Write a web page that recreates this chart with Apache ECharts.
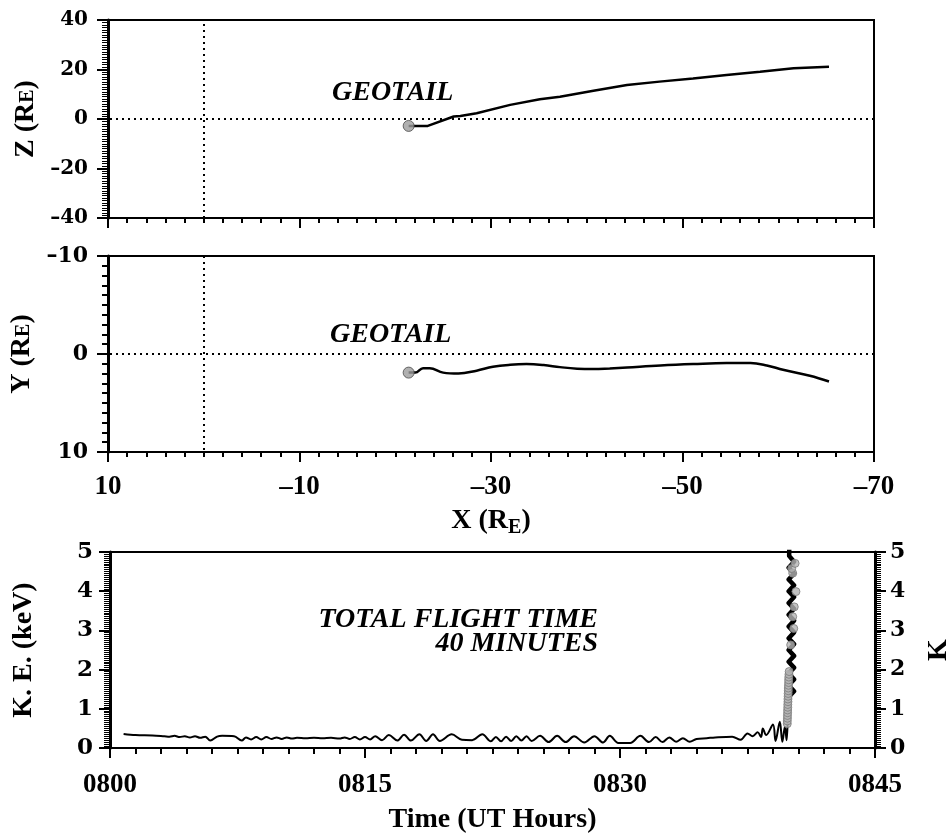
<!DOCTYPE html>
<html><head><meta charset="utf-8">
<script src="https://cdn.jsdelivr.net/npm/echarts@6/dist/echarts.min.js"></script>
<style>html,body{margin:0;padding:0;background:#fff}#c{width:947px;height:839px}</style>
</head><body><div id="c"></div>
<script>
// ---- Data ----
// Top panel: GEOTAIL orbit Z vs X (R_E)
const zX = [-21.4,-23.4,-26.1,-26.8,-28.5,-32.0,-35.1,-37.2,-40.7,-44.2,-47.6,-51.1,-54.6,-58.1,-61.6,-65.3];
const zZ = [-2.8,-2.8,1.0,1.2,2.3,5.7,8.0,9.0,11.4,13.7,15.1,16.4,17.8,19.1,20.5,21.1];
// Middle panel: Y vs X (R_E)
const yX = [-21.4,-22.1,-22.9,-23.6,-25.0,-26.6,-28.5,-30.2,-32.0,-33.7,-35.5,-37.2,-39.0,-40.7,-42.4,-44.2,-47.7,-51.1,-54.6,-57.1,-58.8,-60.5,-63.3,-65.3];
const yY = [1.9,1.9,1.45,1.45,1.9,2.0,1.7,1.3,1.1,1.03,1.13,1.34,1.5,1.54,1.47,1.37,1.17,1.03,0.93,0.93,1.17,1.61,2.22,2.8];
// Bottom panel: kinetic energy (keV) vs minutes after 0800 UT (slow drift part)
const keT = [0.8,1.5,2.5,3.2,3.5,3.8,4.1,4.4,4.7,5.0,5.3,5.6,5.9,6.3,6.6,7.3,7.75,8.0,8.3,8.6,8.9,9.2,9.5,9.8,10.1,10.4,10.7,11.0,11.5,12.0,12.5,13.0,13.5,13.8,14.1,14.4,14.7,15.0,15.3,15.6,16.0,16.4,16.9,17.3,17.7,18.2,18.6,19.0,19.4,20.1,20.7,21.3,21.9,22.4,22.7,23.0,23.3,23.6,23.9,24.2,24.5,24.8,25.3,25.8,26.3,26.8,27.3,27.9,28.5,29.0,29.4,29.9,30.6,31.2,31.7,32.1,32.5,32.9,33.3,33.7,34.1,34.5,35.1,35.6,36.6,37.1,37.5,37.8,38.1,38.3,38.4,38.6,39.0,39.15,39.4,39.55,39.7,39.8,39.88,39.92];
const keV = [0.36,0.33,0.32,0.30,0.29,0.31,0.28,0.30,0.27,0.30,0.26,0.29,0.19,0.29,0.31,0.30,0.19,0.27,0.22,0.28,0.22,0.28,0.23,0.27,0.23,0.27,0.24,0.26,0.25,0.26,0.25,0.26,0.24,0.27,0.23,0.28,0.22,0.28,0.22,0.30,0.20,0.33,0.19,0.34,0.19,0.35,0.18,0.35,0.18,0.35,0.21,0.20,0.35,0.17,0.28,0.17,0.29,0.18,0.30,0.19,0.30,0.18,0.31,0.15,0.31,0.15,0.30,0.14,0.30,0.14,0.31,0.13,0.13,0.31,0.15,0.28,0.15,0.27,0.16,0.25,0.16,0.23,0.25,0.27,0.29,0.21,0.37,0.30,0.40,0.28,0.50,0.33,0.60,0.18,0.67,0.16,0.54,0.20,0.90,1.30];
// Bottom panel: rapid oscillation band of the energy spike
const bandT = [39.92,40.24,39.92,40.24,39.92,40.24,39.92,40.24,39.92,40.24,39.92,40.24,39.92,40.24,39.92,40.24,39.92,40.24,39.92,40.24,39.92,40.24,39.92,40.24,39.95,39.97];
const bandV = [1.30,1.45,1.60,1.75,1.90,2.05,2.20,2.35,2.50,2.65,2.80,2.95,3.10,3.25,3.40,3.55,3.70,3.85,4.00,4.15,4.30,4.45,4.60,4.75,4.90,5.50];
// Grey sample markers along the energy spike
const markT = [39.84,39.84,39.85,39.85,39.86,39.86,39.87,39.87,39.88,39.88,39.89,39.89,39.9,39.9,39.91,39.92,39.92,39.93,39.94,39.95,40.04,40.22,40.16,40.25,40.35,40.16,40.1,40.3];
const markV = [0.62,0.69,0.76,0.83,0.90,0.97,1.04,1.11,1.18,1.25,1.32,1.39,1.46,1.53,1.60,1.67,1.74,1.81,1.88,1.95,2.63,3.05,3.35,3.60,3.99,4.46,4.58,4.71];
// Tick labels
const timeTickValues = [0, 15, 30, 45];
const timeTickLabels = ['0800', '0815', '0830', '0845'];

// ---- Styling ----
const SERIF = "'Liberation Serif','Times New Roman',serif";
const WIDE = "'DejaVu Serif',serif";
const dash = v => (v < 0 ? '\u2013' + Math.abs(v) : String(v));
const pairs = (a, b) => a.map((v, i) => [v, b[i]]);

function baseAxis(extra) {
  return Object.assign({
    type: 'value',
    axisLine: { show: true, onZero: false, lineStyle: { color: '#000', width: 2 } },
    axisTick: { show: true, inside: false, length: 10, lineStyle: { color: '#000', width: 2 } },
    minorTick: { show: true, length: 5, lineStyle: { color: '#000', width: 1.5 } },
    splitLine: { show: false },
    minorSplitLine: { show: false }
  }, extra);
}
const nameStyle = (sub) => ({
  fontFamily: SERIF, fontWeight: 'bold', fontSize: 28, color: '#000',
  rich: { e: { fontFamily: SERIF, fontWeight: 'bold', fontSize: 20, color: '#000', padding: sub ? [14, 0, 0, 0] : [5, 0, 0, 0] } }
});
const dotted = { type: [2, 4], color: '#000', width: 2 };
const refLines = {
  silent: true, symbol: ['none', 'none'], label: { show: false },
  lineStyle: dotted, data: [{ xAxis: 0 }, { yAxis: 0 }]
};
const startMarker = { color: '#9c9c9c', borderColor: '#4a4a4a', borderWidth: 1 };
const gridBase = { show: true, borderColor: '#000', borderWidth: 2, containLabel: false, outerBoundsMode: 'none' };

const option = {
  animation: false,
  backgroundColor: '#fff',
  grid: [
    Object.assign({ left: 108, top: 20, width: 766, height: 198 }, gridBase),
    Object.assign({ left: 108, top: 256, width: 766, height: 196 }, gridBase),
    Object.assign({ left: 110, top: 552, width: 765, height: 196 }, gridBase)
  ],
  xAxis: [
    baseAxis({ gridIndex: 0, min: -70, max: 10, interval: 20, inverse: true,
      minorTick: { show: true, splitNumber: 10, length: 5, lineStyle: { color: '#000', width: 2 } },
      axisLabel: { show: false } }),
    baseAxis({ gridIndex: 1, min: -70, max: 10, interval: 20, inverse: true,
      minorTick: { show: true, splitNumber: 10, length: 5, lineStyle: { color: '#000', width: 2 } },
      axisLabel: { show: true, margin: 22, fontFamily: SERIF, fontWeight: 'bold', fontSize: 27, color: '#000', formatter: dash },
      name: 'X (R{e|E})', nameLocation: 'middle', nameGap: 52, nameTextStyle: nameStyle(true) }),
    baseAxis({ gridIndex: 2, min: 0, max: 45, interval: 15,
      minorTick: { show: true, splitNumber: 10, length: 6, lineStyle: { color: '#000', width: 2 } },
      axisLabel: { show: true, margin: 24, fontFamily: SERIF, fontWeight: 'bold', fontSize: 27, color: '#000',
        formatter: v => timeTickLabels[timeTickValues.indexOf(v)] },
      name: 'Time (UT Hours)', nameLocation: 'middle', nameGap: 58, nameTextStyle: nameStyle(false) })
  ],
  yAxis: [
    baseAxis({ gridIndex: 0, min: -40, max: 40, interval: 20,
      axisLine: { show: true, onZero: false, lineStyle: { color: '#000', width: 3 } },
      axisTick: { show: true, length: 11, lineStyle: { color: '#000', width: 2 } },
      minorTick: { show: true, splitNumber: 20, length: 6, lineStyle: { color: '#000', width: 1 } },
      axisLabel: { show: true, margin: 20, fontFamily: WIDE, fontWeight: 'bold', fontSize: 20, color: '#000', formatter: dash },
      name: 'Z (R{e|E})', nameLocation: 'middle', nameRotate: 90, nameGap: 68, nameTextStyle: nameStyle(false) }),
    baseAxis({ gridIndex: 1, min: -10, max: 10, interval: 10, inverse: true,
      axisLine: { show: true, onZero: false, lineStyle: { color: '#000', width: 3 } },
      axisTick: { show: true, length: 11, lineStyle: { color: '#000', width: 2 } },
      minorTick: { show: true, splitNumber: 10, length: 6, lineStyle: { color: '#000', width: 2 } },
      axisLabel: { show: true, margin: 20, fontFamily: WIDE, fontWeight: 'bold', fontSize: 22, color: '#000', formatter: dash },
      name: 'Y (R{e|E})', nameLocation: 'middle', nameRotate: 90, nameGap: 68, nameTextStyle: nameStyle(false) }),
    baseAxis({ gridIndex: 2, min: 0, max: 5, interval: 1,
      axisLine: { show: true, onZero: false, lineStyle: { color: '#000', width: 3 } },
      axisTick: { show: true, length: 11, lineStyle: { color: '#000', width: 2 } },
      minorTick: { show: true, splitNumber: 20, length: 6, lineStyle: { color: '#000', width: 1 } },
      axisLabel: { show: true, margin: 17, fontFamily: WIDE, fontWeight: 'bold', fontSize: 23, color: '#000' },
      name: 'K. E. (keV)', nameLocation: 'middle', nameRotate: 90, nameGap: 72, nameTextStyle: nameStyle(false) }),
    baseAxis({ gridIndex: 2, position: 'right', min: 0, max: 5, interval: 1,
      axisLine: { show: true, onZero: false, lineStyle: { color: '#000', width: 3 } },
      axisTick: { show: true, length: 11, lineStyle: { color: '#000', width: 2 } },
      minorTick: { show: true, splitNumber: 20, length: 6, lineStyle: { color: '#000', width: 1 } },
      axisLabel: { show: true, margin: 15, fontFamily: WIDE, fontWeight: 'bold', fontSize: 22, color: '#000' },
      name: 'K', nameLocation: 'middle', nameRotate: 90, nameGap: 50, nameTextStyle: nameStyle(false) })
  ],
  series: [
    { type: 'line', xAxisIndex: 0, yAxisIndex: 0, data: pairs(zX, zZ), showSymbol: false, smooth: false,
      lineStyle: { color: '#000', width: 2.5 }, markLine: refLines, z: 3 },
    { type: 'scatter', xAxisIndex: 0, yAxisIndex: 0, data: [[zX[0], zZ[0]]], symbolSize: 11, itemStyle: startMarker, z: 4 },
    { type: 'line', xAxisIndex: 1, yAxisIndex: 1, data: pairs(yX, yY), showSymbol: false, smooth: 0.4,
      lineStyle: { color: '#000', width: 2.5 }, markLine: refLines, z: 3 },
    { type: 'scatter', xAxisIndex: 1, yAxisIndex: 1, data: [[yX[0], yY[0]]], symbolSize: 11, itemStyle: startMarker, z: 4 },
    { type: 'line', xAxisIndex: 2, yAxisIndex: 2, data: pairs(keT, keV), showSymbol: false, smooth: 0.35,
      lineStyle: { color: '#000', width: 2 }, z: 3 },
    { type: 'line', xAxisIndex: 2, yAxisIndex: 2, data: pairs(bandT, bandV), showSymbol: false, smooth: false,
      lineStyle: { color: '#000', width: 4.5, join: 'round' }, z: 3 },
    { type: 'scatter', xAxisIndex: 2, yAxisIndex: 2, data: pairs(markT, markV), symbolSize: 8,
      itemStyle: { color: '#b4b4b4', borderColor: '#7a7a7a', borderWidth: 1 }, z: 4 }
  ],
  graphic: [
    { type: 'text', left: 332, top: 79, style: { text: 'GEOTAIL', fontFamily: SERIF, fontStyle: 'italic', fontWeight: 'bold', fontSize: 28, fill: '#000' } },
    { type: 'text', left: 330, top: 321, style: { text: 'GEOTAIL', fontFamily: SERIF, fontStyle: 'italic', fontWeight: 'bold', fontSize: 28, fill: '#000' } },
    { type: 'text', x: 598, y: 620, style: { text: 'TOTAL FLIGHT TIME', align: 'right', verticalAlign: 'middle', fontFamily: SERIF, fontStyle: 'italic', fontWeight: 'bold', fontSize: 28, fill: '#000' } },
    { type: 'text', x: 598, y: 644, style: { text: '40 MINUTES', align: 'right', verticalAlign: 'middle', fontFamily: SERIF, fontStyle: 'italic', fontWeight: 'bold', fontSize: 28, fill: '#000' } }
  ]
};
const chart = echarts.init(document.getElementById('c'), null, { renderer: 'canvas' });
chart.setOption(option);
</script></body></html>
